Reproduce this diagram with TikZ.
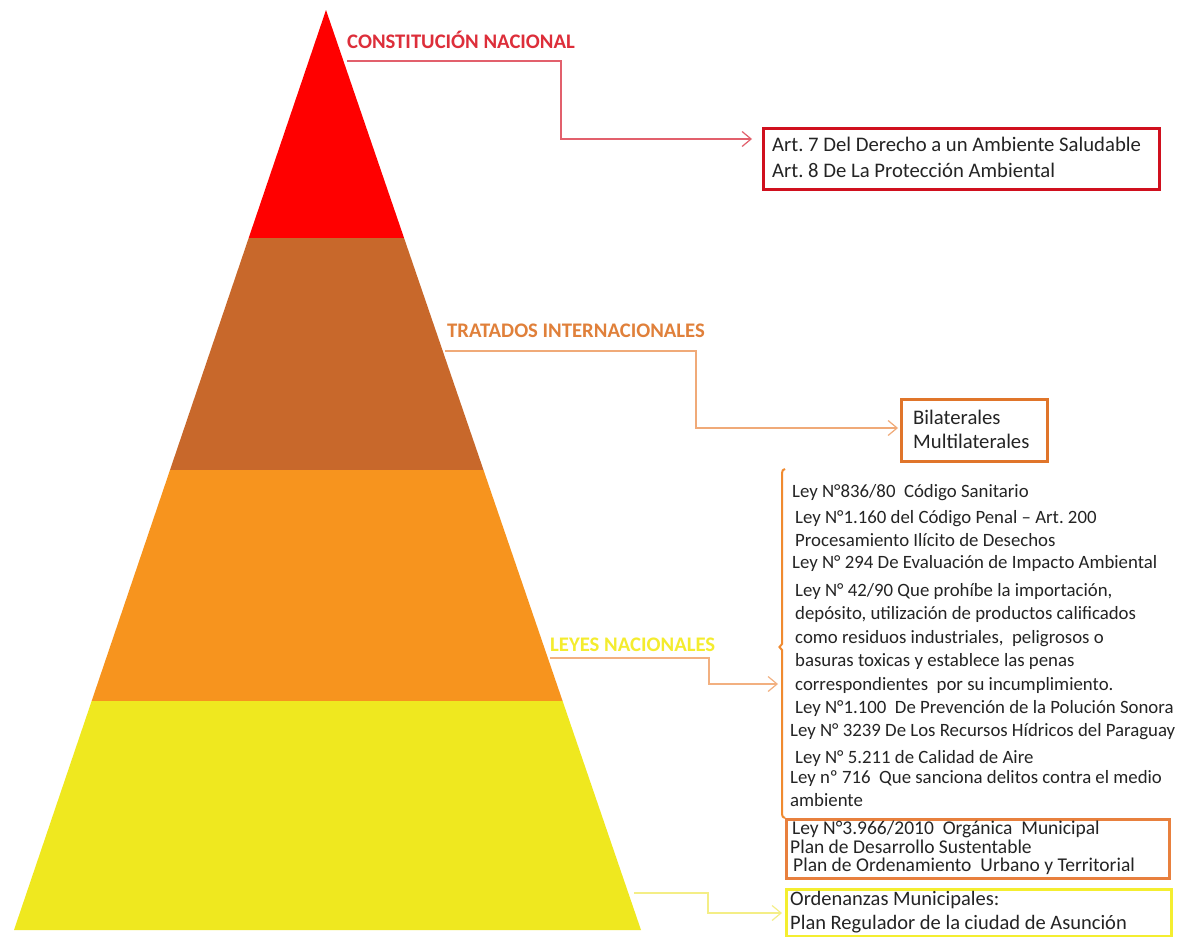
\documentclass[tikz,border=0pt]{standalone}
\usepackage{fontspec}
\setmainfont{Carlito}
\frenchspacing
\usetikzlibrary{arrows.meta}
\definecolor{cred}{HTML}{FF0000}
\definecolor{cbrown}{HTML}{C8682B}
\definecolor{corange}{HTML}{F7941E}
\definecolor{cyellow}{HTML}{EFE81F}
\definecolor{tconst}{HTML}{DD2E3A}
\definecolor{lconst}{HTML}{E2606C}
\definecolor{bconst}{HTML}{D0101E}
\definecolor{ttrat}{HTML}{E0803A}
\definecolor{ltrat}{HTML}{F0AA78}
\definecolor{btrat}{HTML}{E0752A}
\definecolor{tleyes}{HTML}{F4EC2E}
\definecolor{lleyes}{HTML}{F2B080}
\definecolor{bleyes}{HTML}{F08A30}
\definecolor{bmuni}{HTML}{E8803E}
\definecolor{byel}{HTML}{F4EE30}
\definecolor{lyel}{HTML}{F4EE86}
\definecolor{txtc}{HTML}{242424}
\tikzset{
  title/.style={font=\bfseries\fontsize{20.7}{24}\selectfont, inner sep=0pt, anchor=base west},
  txt/.style={font=\fontsize{20.7}{24}\selectfont, text=txtc, inner sep=0pt, anchor=base west},
  small/.style={font=\fontsize{18.8}{22}\selectfont, text=txtc, inner sep=0pt, anchor=base west},
  mid/.style={font=\fontsize{19.5}{22}\selectfont, text=txtc, inner sep=0pt, anchor=base west},
  yeltxt/.style={font=\fontsize{20.5}{22}\selectfont, text=txtc, inner sep=0pt, anchor=base west},
  boxnode/.style={draw, line width=2.5pt, inner sep=0pt, anchor=north west},
  conn/.style={line width=1.2pt, -{Straight Barb[length=9pt,width=15pt,line width=1.2pt]}}
}
\begin{document}
\begin{tikzpicture}[x=1pt,y=-1pt]
\useasboundingbox (0,0) rectangle (1187,937);
\fill[white] (0,0) rectangle (1187,937);
% pyramid
\coordinate (apex) at (326,10);
\coordinate (bl) at (14,930);
\coordinate (br) at (641,930);
\begin{scope}
\clip (apex) -- (br) -- (bl) -- cycle;
\fill[cred] (0,0) rectangle (1187,238);
\fill[cbrown] (0,238) rectangle (1187,470);
\fill[corange] (0,470) rectangle (1187,701);
\fill[cyellow] (0,701) rectangle (1187,937);
\end{scope}
% titles
\node[title, text=tconst] (tcon) at (347,48) {CONSTITUCIÓN NACIONAL};
\node[title, text=ttrat] (ttra) at (447,337) {TRATADOS INTERNACIONALES};
\node[title, text=tleyes] (tley) at (550,651) {LEYES NACIONALES};
% boxes
\node[boxnode, draw=bconst, minimum width=396pt, minimum height=61pt] (art) at (762,127) {};
\node[txt] (a7) at (772,151) {Art. 7 Del Derecho a un Ambiente Saludable};
\node[txt] (a8) at (772,177) {Art. 8 De La Protección Ambiental};
\node[boxnode, draw=btrat, minimum width=146pt, minimum height=62pt] (bil) at (900,398) {};
\node[txt] (b1) at (913,424) {Bilaterales};
\node[txt] (b2) at (913,448) {Multilaterales};
% leyes bracket
\coordinate (brk) at (782,684);
\draw[bleyes, line width=2pt] (785,469) to[out=180,in=90] (782,473) -- (782,644) -- (779.5,647) -- (782,650) -- (782,814) to[out=-90,in=180] (785,818);
\node[small] (l1) at (792,497) {Ley N°836/80\ \ Código Sanitario};
\node[small] (l2) at (795,523) {Ley N°1.160 del Código Penal – Art. 200};
\node[small] (l3) at (795,546) {Procesamiento Ilícito de Desechos};
\node[small] (l4) at (792,568) {Ley N° 294 De Evaluación de Impacto Ambiental};
\node[small] (l5) at (795,596) {Ley N° 42/90 Que prohíbe la importación,};
\node[small] (l6) at (795,619) {depósito, utilización de productos calificados};
\node[small] (l7) at (795,643) {como residuos industriales,\ \ peligrosos o};
\node[small] (l8) at (795,666) {basuras toxicas y establece las penas};
\node[small] (l9) at (795,690) {correspondientes\ \ por su incumplimiento.};
\node[small] (l10) at (795,713) {Ley N°1.100\ \ De Prevención de la Polución Sonora};
\node[small] (l11) at (790,736) {Ley N° 3239 De Los Recursos Hídricos del Paraguay};
\node[small] (l12) at (795,763) {Ley N° 5.211 de Calidad de Aire};
\node[small] (l13) at (790,783) {Ley nº 716\ \ Que sanciona delitos contra el medio};
\node[small] (l14) at (790,806) {ambiente};
\node[boxnode, draw=bmuni, minimum width=383pt, minimum height=59pt] (muni) at (785,818) {};
\node[mid] (m1) at (792,834) {Ley N°3.966/2010\ \ Orgánica\ \ Municipal};
\node[mid] (m2) at (790,853) {Plan de Desarrollo Sustentable};
\node[mid] (m3) at (793,871) {Plan de Ordenamiento\hspace{9pt}Urbano y Territorial};
\node[boxnode, draw=byel, minimum width=385pt, minimum height=47pt] (yel) at (785,888) {};
\node[yeltxt] (y1) at (790,905) {Ordenanzas Municipales:};
\node[yeltxt] (y2) at (790,929) {Plan Regulador de la ciudad de Asunción};
% connectors
\coordinate (c1a) at (347,61);
\coordinate (c1b) at (561,61);
\coordinate (c1c) at (561,139);
\draw[conn, lconst] (c1a) -- (c1b) -- (c1c) -- ([xshift=-10pt]art.west |- c1c);
\coordinate (c2a) at (445,351);
\coordinate (c2b) at (696,351);
\coordinate (c2c) at (696,428);
\draw[conn, ltrat] (c2a) -- (c2b) -- (c2c) -- ([xshift=-2pt]bil.west |- c2c);
\coordinate (c3a) at (550,658);
\coordinate (c3b) at (709,658);
\coordinate (c3c) at (709,684);
\draw[conn, lleyes] (c3a) -- (c3b) -- (c3c) -- ([xshift=-4pt]brk);
\coordinate (c4a) at (634,893);
\coordinate (c4b) at (708,893);
\coordinate (c4c) at (708,913);
\draw[conn, lyel] (c4a) -- (c4b) -- (c4c) -- ([xshift=-3pt]yel.west |- c4c);
\end{tikzpicture}
\end{document}
